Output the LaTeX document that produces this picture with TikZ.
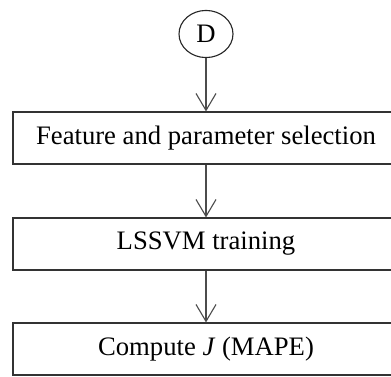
\documentclass[tikz,border=0pt]{standalone}
\usepackage{fontspec}
\setmainfont{Liberation Serif}
\usetikzlibrary{arrows.meta,shapes.geometric}

\tikzset{
  stagebox/.style={draw=black!80, line width=0.5pt, minimum width=173.7pt, minimum height=23.4pt,
    inner sep=0pt, font=\fontsize{12}{14}\selectfont},
  entrymark/.style={ellipse, draw=black!85, line width=0.5pt, minimum width=24.3pt, minimum height=21.2pt,
    inner sep=0pt, font=\fontsize{12}{14}\selectfont},
  flowarrow/.style={draw=black!70, line width=0.5pt, -{Straight Barb[length=7.6pt,width=9pt]}}
}

\begin{document}
\begin{tikzpicture}[x=0.45pt,y=0.45pt]
   \clip (0,0) rectangle (391,376);
   \fill[white] (0,0) rectangle (391,376);
   \node[entrymark] (d) at (206,342) {D};
   \node[stagebox] (select) at (206,238) {Feature and parameter selection};
   \node[stagebox] (train) at (206,132) {LSSVM training};
   \node[stagebox] (mape) at (206,27) {Compute \textit{J} (MAPE)};
   \draw[flowarrow] (d) -- (select);
   \draw[flowarrow] (select) -- (train);
   \draw[flowarrow] (train) -- (mape);
 \end{tikzpicture}
\end{document}
